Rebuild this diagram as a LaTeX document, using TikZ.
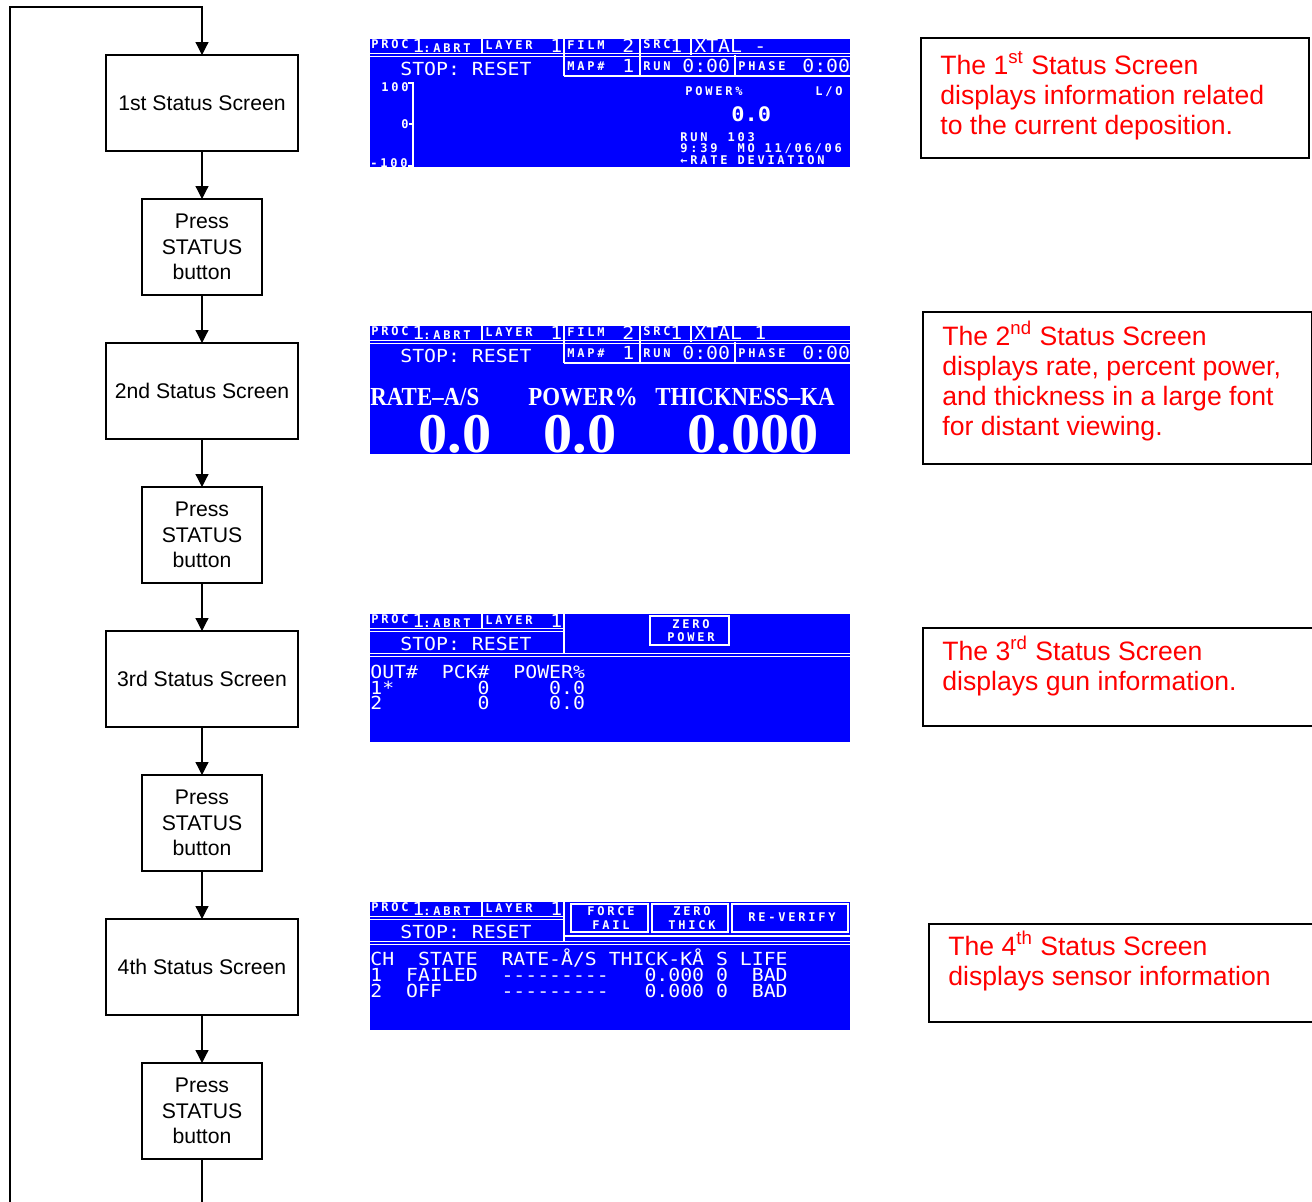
\documentclass[tikz,border=0pt]{standalone}
\usepackage{fontspec}
\setmainfont{Liberation Sans}
\newfontfamily\lcdfont{DejaVu Sans Mono}[FakeStretch=1.1,Ligatures=TeXOff]
\newfontfamily\lcdsmall{DejaVu Sans Mono}[LetterSpace=23,Ligatures=TeXOff]
\newfontfamily\lcdserif{Liberation Serif}[FakeStretch=0.88,Ligatures=TeXOff]
\newfontfamily\lcdhugefont{Liberation Serif}[FakeStretch=1.04]
\usetikzlibrary{positioning,arrows.meta}
\definecolor{lcdblue}{RGB}{0,0,255}

\tikzset{
  scrbox/.style={draw, line width=0.6pt, outer sep=0pt, minimum width=96pt,
    minimum height=48pt, font=\fontsize{10.6}{12.75}\selectfont},
  pressbox/.style={scrbox, minimum width=60pt, align=center},
  flow/.style={line width=0.6pt, -{Triangle[width=6.5pt,length=6.5pt]}},
  notebox/.style={draw, line width=1pt, anchor=north west, inner sep=0pt},
  note/.style={text=red, anchor=base west, inner sep=0pt, align=left,
    font=\fontsize{13.3}{15}\selectfont},
  lcd/.style={text=white, anchor=base west, inner sep=0pt,
    font=\lcdfont\fontsize{9}{12}\selectfont},
  lcdsm/.style={lcd, font=\lcdsmall\bfseries\fontsize{6}{8}\selectfont},
  lcdnum/.style={lcd, font=\lcdfont\bfseries\fontsize{10}{13}\selectfont},
  lcdbig/.style={lcd, font=\lcdserif\bfseries\fontsize{13}{14}\selectfont},
  lcdhuge/.style={lcd, font=\lcdhugefont\bfseries\fontsize{28}{30}\selectfont},
  lcdline/.style={white, line width=0.6pt},
  lcddbl/.style={white, line width=0.5pt, double=lcdblue, double distance=0.6pt},
}

% left part of the two top rows, on every screen
\newcommand{\lcdleft}[1]{%
  \draw[lcdline] (112,0) -- (112,16);
  \node[lcdsm] (#1-proc) at (1,9) {PROC};
  \node[lcd] (#1-proc1) at (42,13) {1};
  \node[lcdsm] (#1-abrt) at (53,13) {:ABRT};
  \node[lcdsm] (#1-layer) at (115,10) {LAYER};
  \node[lcd] (#1-layer1) at (180,13) {1};
  \node[lcd] (#1-stop) at (30,36) {STOP: RESET};
}
% full top rows of the 1st and 2nd screens
\newcommand{\lcdhead}[2]{%
  \lcdleft{#1}
  \draw[lcddbl] (0,16) -- (480,16);
  \draw[lcdline] (321,0) -- (321,16) (194,0) -- (194,37) (270,0) -- (270,37)
    (365,16) -- (365,37) (194,37) -- (480,37);
  \node[lcdsm] (#1-film) at (197,10) {FILM};
  \node[lcd] (#1-film2) at (252,13) {2};
  \node[lcdsm] (#1-src) at (273,9) {SRC};
  \node[lcd] (#1-src1) at (300,13) {1};
  \node[lcd] (#1-xtal) at (324,13) {XTAL};
  \node[lcd] (#1-xtalv) at (384,13) {#2};
  \node[lcdsm] (#1-map) at (197,31) {MAP\#};
  \node[lcd] (#1-map1) at (252,33) {1};
  \node[lcdsm] (#1-run) at (273,31) {RUN};
  \node[lcd] (#1-runt) at (312,33) {0:00};
  \node[lcdsm] (#1-phase) at (368,31) {PHASE};
  \node[lcd] (#1-phaset) at (432,33) {0:00};
}

\begin{document}
\begin{tikzpicture}[x=0.5pt,y=-0.5pt]
\path[fill=white, use as bounding box] (0,0) rectangle (1312,1201);
\clip (0,0) rectangle (1312,1201);

% flow chart
\node[scrbox] (s1) at (202,103) {1st Status Screen};
\node[pressbox, below=24pt of s1] (p1) {Press\\STATUS\\button};
\node[scrbox, below=24pt of p1] (s2) {2nd Status Screen};
\node[pressbox, below=24pt of s2] (p2) {Press\\STATUS\\button};
\node[scrbox, below=24pt of p2] (s3) {3rd Status Screen};
\node[pressbox, below=24pt of s3] (p3) {Press\\STATUS\\button};
\node[scrbox, below=24pt of p3] (s4) {4th Status Screen};
\node[pressbox, below=24pt of s4] (p4) {Press\\STATUS\\button};
\foreach \a/\b in {s1/p1,p1/s2,s2/p2,p2/s3,s3/p3,p3/s4,s4/p4}
  \draw[flow] (\a) -- (\b);
\coordinate (loopbot) at (10,1230);
\coordinate (looptop) at (10,7);
\draw[flow] (p4.south) |- (loopbot) -- (looptop) -| (s1.north);

% 1st status screen
\begin{scope}[shift={(370,39)}]
  \fill[lcdblue] (0,0) rectangle (480,128);
  \clip (0,0) rectangle (480,128);
  \lcdhead{a}{-}
  \draw[lcdline] (38,44) -- (43,44) -- (43,128) (39,85) -- (43,85) (38,127) -- (43,127);
  \node[lcdsm] (a-top) at (11,52) {100};
  \node[lcdsm] (a-mid) at (31,89) {0};
  \node[lcdsm] (a-bot) at (0,128) {-100};
  \node[lcdsm] (a-pow) at (315,56) {POWER\%};
  \node[lcdsm] (a-lo) at (445,56) {L/O};
  \node[lcdnum] (a-val) at (361,82) {0.0};
  \node[lcdsm] (a-runno) at (310,102) {RUN~~103};
  \node[lcdsm] (a-date) at (310,113) {9:39~~MO~11/06/06};
  \node[lcdsm] (a-dev) at (310,125) {←RATE~DEVIATION};
\end{scope}

% 2nd status screen
\begin{scope}[shift={(370,326)}]
  \fill[lcdblue] (0,0) rectangle (480,128);
  \clip (0,0) rectangle (480,128);
  \lcdhead{b}{1}
  \node[lcdbig] (b-rate) at (0,79) {RATE–A/S};
  \node[lcdbig] (b-pow) at (158,79) {POWER\%};
  \node[lcdbig] (b-thk) at (285,79) {THICKNESS–KA};
  \node[lcdhuge] (b-rv) at (48,126) {0.0};
  \node[lcdhuge] (b-pv) at (173,126) {0.0};
  \node[lcdhuge] (b-tv) at (317,126) {0.000};
\end{scope}

% 3rd status screen
\begin{scope}[shift={(370,614)}]
  \fill[lcdblue] (0,0) rectangle (480,128);
  \clip (0,0) rectangle (480,128);
  \lcdleft{c}
  \draw[lcddbl] (0,16) -- (194,16);
  \draw[lcdline] (194,0) -- (194,41);
  \draw[lcddbl] (0,41) -- (480,41);
  \draw[lcdline] (280,2) rectangle (359,31);
  \node[lcdsm, anchor=base] (c-zero) at (321,14) {ZERO};
  \node[lcdsm, anchor=base] (c-zpow) at (321,27) {POWER};
  \node[lcd] (c-head) at (0,64) {OUT\#~~PCK\#~~POWER\%};
  \node[lcd] (c-out1) at (0,80) {1*~~~~~~~0~~~~~0.0};
  \node[lcd] (c-out2) at (0,95) {2~~~~~~~~0~~~~~0.0};
\end{scope}

% 4th status screen
\begin{scope}[shift={(370,902)}]
  \fill[lcdblue] (0,0) rectangle (480,128);
  \clip (0,0) rectangle (480,128);
  \lcdleft{d}
  \draw[lcddbl] (0,16) -- (194,16);
  \draw[lcdline] (194,0) -- (194,41) (194,34) -- (480,34);
  \draw[lcddbl] (0,41) -- (480,41);
  \draw[lcdline] (201,2) rectangle (278,30) (282,2) rectangle (358,30) (362,2) rectangle (478,30);
  \node[lcdsm, anchor=base] (d-force) at (241,13) {FORCE};
  \node[lcdsm, anchor=base] (d-fail) at (241,27) {FAIL};
  \node[lcdsm, anchor=base] (d-zero) at (322,13) {ZERO};
  \node[lcdsm, anchor=base] (d-thick) at (322,27) {THICK};
  \node[lcdsm, anchor=base] (d-verify) at (422,19) {RE-VERIFY};
  \node[lcd] (d-head) at (0,63) {CH~~STATE~~RATE-Å/S~THICK-KÅ~S~LIFE};
  \node[lcd] (d-ch1) at (0,79) {1~~FAILED~~---------~~~0.000~0~~BAD};
  \node[lcd] (d-ch2) at (0,95) {2~~OFF~~~~~---------~~~0.000~0~~BAD};
\end{scope}

% notes
\node[notebox, minimum width=194pt, minimum height=60pt] (b1) at (920,37) {};
\node[note] (n1) at (940,134) {The 1\textsuperscript{st} Status Screen\\displays information related\\to the current deposition.};
\node[notebox, minimum width=194.5pt, minimum height=76pt] (b2) at (922,311) {};
\node[note] (n2) at (942,435) {The 2\textsuperscript{nd} Status Screen\\displays rate, percent power,\\and thickness in a large font\\for distant viewing.};
\node[notebox, minimum width=220pt, minimum height=49pt] (b3) at (922,627) {};
\node[note] (n3) at (942,690) {The 3\textsuperscript{rd} Status Screen\\displays gun information.};
\node[notebox, minimum width=220pt, minimum height=49pt] (b4) at (928,923) {};
\node[note] (n4) at (948,985) {The 4\textsuperscript{th} Status Screen\\displays sensor information};
\end{tikzpicture}
\end{document}
